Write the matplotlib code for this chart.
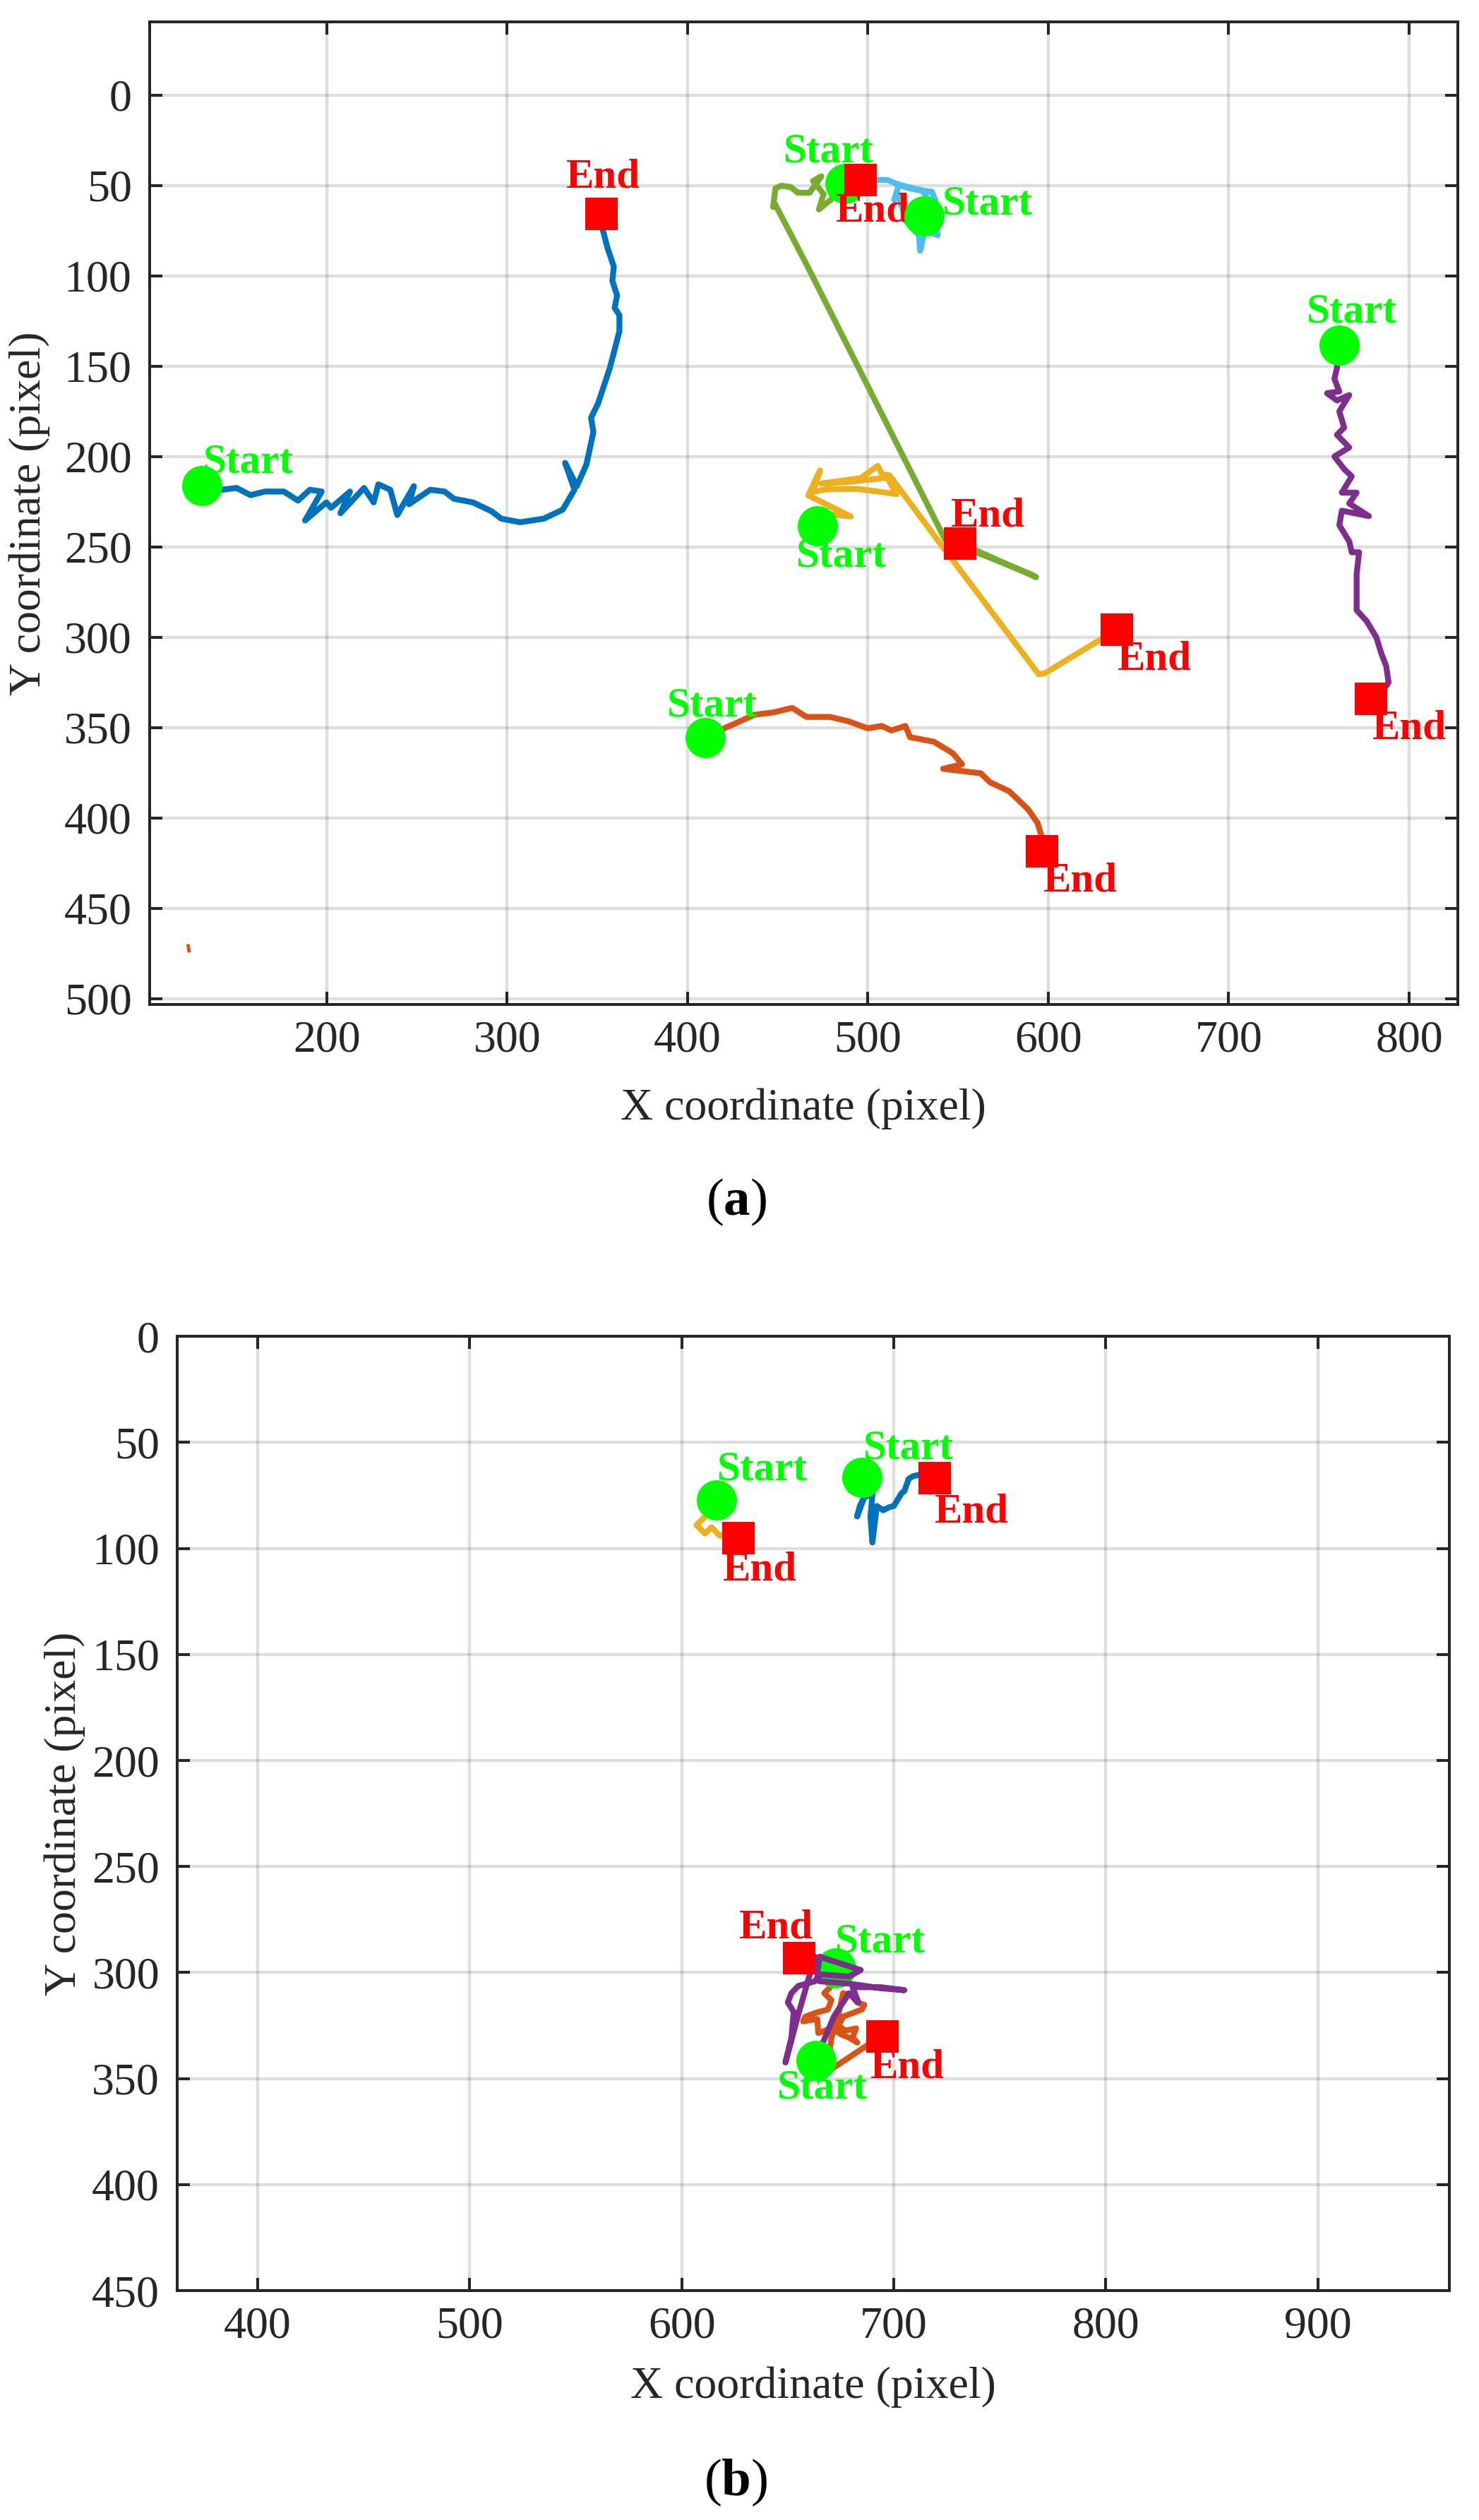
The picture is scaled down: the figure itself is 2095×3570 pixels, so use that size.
import numpy as np
import matplotlib
matplotlib.use('Agg')
import matplotlib.pyplot as plt

plt.rcParams['font.family'] = ['Liberation Serif', 'DejaVu Serif']
plt.rcParams['mathtext.fontset'] = 'custom'
plt.rcParams['mathtext.rm'] = 'Liberation Serif'
plt.rcParams['mathtext.bf'] = 'Liberation Serif:bold'

# ---------------- panel (a) trajectories (pixel coords) ----------------
a1_x = [130.9, 142.2, 150.1, 157.9, 165.8, 176.3, 184.2, 190.7, 197.3, 188.1, 199.9, 202.5, 213.0, 207.7,
        220.8, 226.1, 228.7, 235.3, 239.2, 248.4, 245.7, 257.5, 265.4, 270.6, 281.1, 291.6, 296.8, 307.3,
        320.4, 330.9, 337.4, 332.2, 338.7, 344.0, 347.9, 346.6, 350.5, 354.5, 357.1, 359.7, 362.3, 362.3,
        359.7, 361.0, 358.4, 359.2, 355.8, 353.2, 352.2]
a1_y = [216.0, 218.4, 217.4, 221.4, 219.4, 219.4, 224.4, 218.4, 219.4, 235.4, 225.4, 228.4, 219.4, 231.4,
        217.4, 225.4, 215.4, 218.4, 232.4, 216.4, 226.4, 218.4, 219.4, 223.4, 225.4, 230.4, 234.4, 236.4,
        234.4, 229.4, 218.4, 203.5, 216.4, 204.5, 186.5, 178.6, 170.6, 158.6, 150.7, 140.7, 130.7, 121.8,
        117.8, 110.8, 102.8, 94.9, 84.9, 74.9, 65.6]

a2_x = [410.0, 420.5, 437.2, 447.7, 458.1, 466.0, 479.0, 489.5, 499.9, 507.8, 513.0, 520.8, 523.4, 536.5,
        547.0, 552.2, 541.7, 562.6, 567.8, 578.3, 583.6, 588.8, 594.0, 597.1, 596.6]
a2_y = [355.6, 350.4, 342.9, 341.6, 339.1, 344.1, 344.1, 346.6, 350.4, 349.1, 351.6, 349.1, 355.3, 357.8,
        364.1, 370.3, 372.8, 375.3, 380.3, 385.2, 390.2, 395.2, 402.7, 412.7, 418.4]
a2_stray_x = [123.3, 123.8]
a2_stray_y = [470.8, 473.5]

a3_x = [472.0, 480.0, 490.5, 476.0, 467.0, 473.5, 469.6, 478.0, 495.0, 515.9, 510.7, 490.0, 474.2, 496.0,
        505.5, 508.0, 512.0, 540.0, 594.7, 598.0, 637.9]
a3_y = [238.3, 232.0, 233.2, 226.0, 221.5, 207.8, 219.5, 218.0, 218.0, 220.8, 211.7, 214.0, 215.0, 212.0,
        205.2, 210.0, 210.4, 248.0, 320.5, 320.0, 295.9]

a4_x = [761.1, 760.0, 758.6, 761.3, 754.5, 760.0, 766.8, 761.3, 764.0, 760.0, 766.8, 758.6, 764.0, 768.2,
        762.7, 770.9, 766.8, 777.7, 762.7, 761.3, 766.8, 768.2, 772.3, 770.9, 770.9, 776.4, 781.8, 784.6,
        787.3, 788.6, 787.3, 778.8]
a4_y = [138.5, 151.0, 157.0, 164.0, 165.0, 169.0, 166.0, 175.0, 184.0, 188.0, 195.0, 200.0, 207.0, 211.0,
        220.0, 220.0, 226.0, 233.0, 230.0, 238.0, 247.0, 253.0, 253.0, 265.0, 285.0, 291.0, 300.0, 309.0,
        316.0, 325.0, 327.0, 333.9]

a5_x = [487.4, 479.4, 472.9, 475.5, 472.9, 469.6, 474.2, 467.7, 461.2, 457.2, 452.0, 448.8, 447.5, 448.6,
        466.4, 542.8, 590.0, 593.3, 551.0]
a5_y = [49.1, 58.0, 63.3, 54.8, 51.6, 47.6, 45.0, 54.1, 54.1, 50.9, 50.2, 51.6, 62.0, 60.4,
        94.5, 246.0, 265.0, 266.8, 248.0]

a6_x = [531.2, 536.8, 537.4, 535.5, 530.3, 522.5, 517.2, 514.6, 517.2, 521.1, 528.3, 529.0, 531.6, 538.7,
        536.8, 530.3, 517.2, 510.7, 504.8, 495.9]
a6_y = [66.8, 63.3, 58.1, 53.5, 52.9, 51.6, 49.6, 58.0, 55.5, 69.8, 77.6, 86.1, 75.0, 77.6,
        63.3, 52.9, 49.6, 47.0, 47.0, 47.1]

a_xs = [a1_x, a2_x, a3_x, a4_x, a5_x, a6_x]
a_ys = [a1_y, a2_y, a3_y, a4_y, a5_y, a6_y]
# label anchors (left x, baseline y)
a_start_lbl = [(131.8, 209.1), (388.6, 343.6), (460.3, 261.0), (743.1, 125.9), (453.1, 37.2), (541.4, 66.1)]
a_end_lbl = [(332.7, 51.0), (597.1, 440.5), (638.4, 317.8), (779.6, 356.1), (545.9, 238.4), (482.3, 70.0)]

# ---------------- panel (b) trajectories ----------------
b1_x = [685.0, 688.0, 684.0, 682.7, 686.0, 690.0, 689.0, 689.9, 692.0, 695.0, 697.7, 700.0, 703.7, 705.0,
        707.0, 709.0, 711.7, 715.0, 719.2]
b1_y = [66.5, 72.0, 80.0, 84.9, 76.0, 74.0, 85.0, 97.2, 80.0, 82.0, 80.6, 80.0, 73.9, 73.0,
        67.2, 66.0, 65.3, 66.0, 66.7]

b2_x = [672.8, 671.7, 667.2, 670.6, 668.9, 662.8, 658.3, 657.2, 663.9, 664.4, 670.6, 673.9, 677.2, 682.2,
        680.6, 682.8, 678.9, 675.0, 672.8, 676.1, 685.0, 686.1, 682.8, 680.0, 676.1, 673.9, 670.6, 669.4,
        669.4, 687.8, 694.7]
b2_y = [298.0, 305.2, 309.7, 313.0, 317.4, 319.1, 320.8, 323.0, 321.9, 328.5, 326.3, 325.2, 327.4, 326.3,
        330.7, 333.0, 330.7, 329.1, 327.4, 320.8, 317.4, 315.2, 314.1, 310.8, 309.7, 319.6, 330.7, 339.6,
        346.3, 334.1, 330.2]

b3_x = [616.3, 612.0, 607.0, 611.0, 614.0, 618.0, 622.0, 626.6]
b3_y = [77.2, 84.0, 89.0, 93.0, 90.0, 94.0, 93.0, 95.0]

b4_x = [663.3, 666.1, 671.7, 678.9, 683.3, 680.6, 693.9, 705.0, 693.9, 678.9, 665.0, 663.9, 665.0, 684.4,
        678.9, 665.0, 662.8, 655.0, 651.7, 650.0, 652.8, 651.7, 648.9, 655.0, 662.8, 655.3]
b4_y = [341.6, 334.1, 320.8, 309.7, 314.1, 306.9, 306.9, 308.3, 307.4, 305.2, 304.1, 300.2, 292.5, 298.8,
        301.9, 300.8, 304.1, 306.3, 309.7, 314.1, 318.5, 330.7, 342.4, 319.6, 292.5, 293.3]

b_xs = [b1_x, b2_x, b3_x, b4_x]
b_ys = [b1_y, b2_y, b3_y, b4_y]
b_start_lbl = [(685.7, 57.6), (672.2, 290.2), (616.8, 67.8), (645.0, 359.4)]
b_end_lbl = [(719.3, 87.8), (688.9, 349.6), (619.3, 115.0), (627.2, 283.6)]

line_colors = ['#0072BD', '#D95319', '#EDB120', '#7E2F8E', '#77AC30', '#4DBEEE']
ink = '#262626'


def style_axes(ax, xlim, ylim, xticks, yticks):
    ax.set_xlim(xlim)
    ax.set_ylim(ylim)
    ax.set_xticks(xticks)
    ax.set_yticks(yticks)
    ax.set_axisbelow(True)
    ax.grid(True, color=ink, alpha=0.15, linewidth=3.1)
    for s in ax.spines.values():
        s.set_linewidth(2.9)
        s.set_color(ink)
    ax.tick_params(direction='in', length=13, width=2.9, color=ink, labelcolor=ink,
                   labelsize=46, top=True, right=True)
    ax.tick_params(axis='x', pad=16)
    ax.tick_params(axis='y', pad=18)


def draw_tracks(ax, xs, ys, start_lbl, end_lbl):
    for i in range(len(xs)):
        c = line_colors[i]
        z = 3 + 5 * i
        ax.plot(xs[i], ys[i], color=c, lw=6, solid_capstyle='round', solid_joinstyle='round', zorder=z)
        ax.plot(xs[i][-1], ys[i][-1], 's', ms=33, mfc='#FF0000', mec='#FF0000', mew=0, zorder=z + 1)
        ax.text(end_lbl[i][0], end_lbl[i][1], 'End', color='#FF0000', fontsize=42.5, fontweight='bold',
                ha='left', va='baseline', zorder=z + 2)
        ax.plot(xs[i][0], ys[i][0], 'o', ms=41, mfc='#00FF00', mec='#00FF00', mew=0, zorder=z + 3)
        ax.text(start_lbl[i][0], start_lbl[i][1], 'Start', color='#00FF00', fontsize=42.5,
                fontweight='bold', ha='left', va='baseline', zorder=z + 4)


fig = plt.figure(figsize=(20.95, 35.70), dpi=100)

# (a)
ax1 = fig.add_axes([0.1010, 0.6014, 0.8847, 0.3898])
style_axes(ax1, (101.8, 827.0), (503.2, -40.3), np.arange(200, 801, 100), np.arange(0, 501, 50))
draw_tracks(ax1, a_xs, a_ys, a_start_lbl, a_end_lbl)
ax1.plot(a2_stray_x, a2_stray_y, color=line_colors[1], lw=3.5, zorder=4)
ax1.set_xlabel('X coordinate (pixel)', fontsize=46, color=ink)
ax1.set_ylabel('Y coordinate (pixel)', fontsize=46, color=ink)
ax1.xaxis.set_label_coords(0.5, -0.106)
ax1.xaxis.label.set_va('center')
ax1.yaxis.set_label_coords(-0.0917, 0.5)
ax1.yaxis.label.set_va('center')

# (b)
ax2 = fig.add_axes([0.1198, 0.0910, 0.8601, 0.3787])
style_axes(ax2, (362.0, 962.0), (450, 0), np.arange(400, 901, 100), np.arange(0, 451, 50))
draw_tracks(ax2, b_xs, b_ys, b_start_lbl, b_end_lbl)
ax2.set_xlabel('X coordinate (pixel)', fontsize=46, color=ink)
ax2.set_ylabel('Y coordinate (pixel)', fontsize=46, color=ink)
ax2.xaxis.set_label_coords(0.5, -0.101)
ax2.xaxis.label.set_va('center')
ax2.yaxis.set_label_coords(-0.0882, 0.5)
ax2.yaxis.label.set_va('center')

fig.text(1043 / 2095, 1 - 1703 / 3570, r'($\mathbf{a}$)', fontsize=54, color='black', ha='center', va='center')
fig.text(1042 / 2095, 1 - 3517 / 3570, r'($\mathbf{b}$)', fontsize=54, color='black', ha='center', va='center')

fig.savefig('out.png', dpi=100, facecolor='white')
